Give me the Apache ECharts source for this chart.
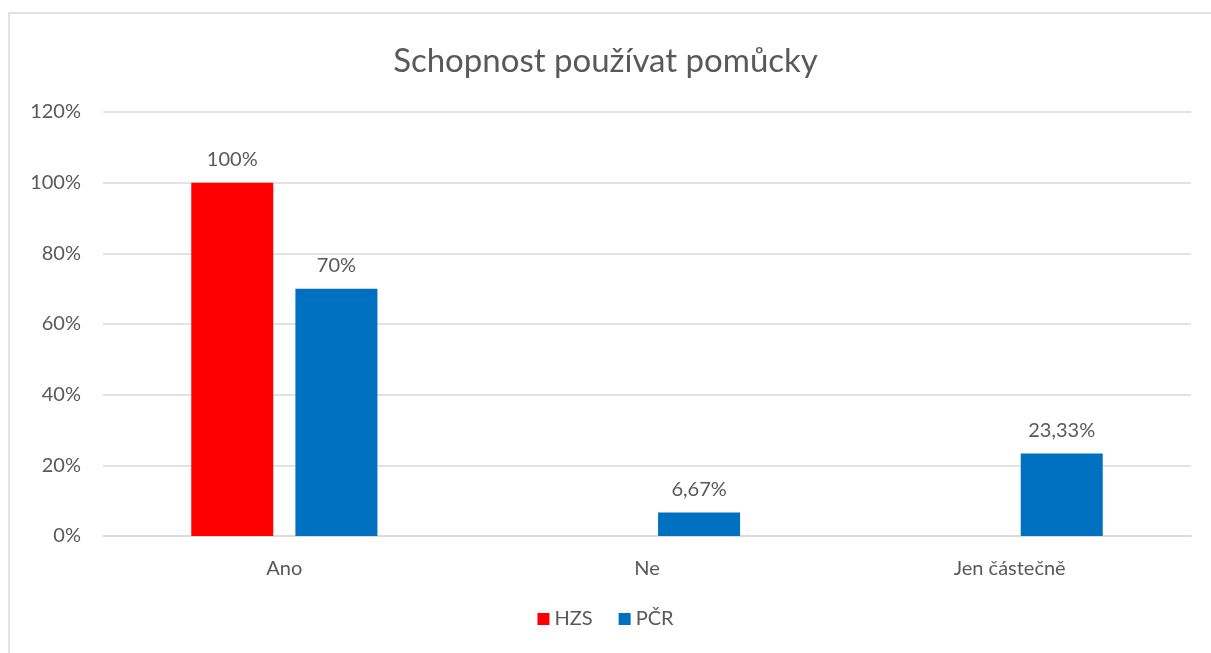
<!DOCTYPE html>
<html>
<head>
<meta charset="utf-8">
<script src="https://cdn.jsdelivr.net/npm/echarts@6/dist/echarts.min.js"></script>
<style>
  html, body { margin: 0; padding: 0; background: #fff; }
  #chart { width: 1211px; height: 653px; }
</style>
</head>
<body>
<div id="chart"></div>
<script>
// data
var categories = ['Ano', 'Ne', 'Jen částečně']
var hzs = [100, null, null]
var pcr = [70, 6.67, 23.33]
var yTicks = [0, 20, 40, 60, 80, 100, 120]

var font = 'Lato, "Open Sans", sans-serif'
var gray = '#595959'

function pct (v) {
  // 6.67 -> "6,67%"
  return String(v).replace('.', ',') + '%'
}

var chart = echarts.init(document.getElementById('chart'))
chart.setOption({
  animation: false,
  textStyle: { fontFamily: font },
  graphic: [{
    type: 'rect',
    shape: { x: 9, y: 13, width: 1210, height: 650 },
    style: { fill: 'none', stroke: '#d9d9d9', lineWidth: 1.5 },
    silent: true
  }],
  title: {
    text: 'Schopnost používat pomůcky',
    left: 'center',
    top: 40,
    textStyle: { fontFamily: font, fontSize: 33, fontWeight: 'normal', color: gray }
  },
  legend: {
    bottom: 19,
    left: 'center',
    itemWidth: 12,
    itemHeight: 12,
    itemGap: 26,
    icon: 'rect',
    textStyle: { fontFamily: font, fontSize: 20, color: gray },
    data: ['HZS', 'PČR']
  },
  grid: { left: 103, right: 20, top: 112, bottom: 117 },
  xAxis: {
    type: 'category',
    data: categories,
    axisLine: { lineStyle: { color: '#d9d9d9', width: 1.5 } },
    axisTick: { show: false },
    axisLabel: { color: gray, fontSize: 20, margin: 23, fontFamily: font }
  },
  yAxis: {
    type: 'value',
    min: yTicks[0],
    max: yTicks[yTicks.length - 1],
    interval: 20,
    axisLine: { show: false },
    axisTick: { show: false },
    axisLabel: { color: gray, fontSize: 20, margin: 22, fontFamily: font, formatter: '{value}%' },
    splitLine: { lineStyle: { color: '#d9d9d9', width: 1.5 } }
  },
  series: [
    {
      name: 'HZS',
      type: 'bar',
      data: hzs,
      barWidth: 82,
      barGap: '27%',
      itemStyle: { color: '#ff0000' },
      label: {
        show: true,
        position: 'top',
        distance: 13,
        color: gray,
        fontSize: 20,
        fontFamily: font,
        formatter: function (p) { return p.value == null ? '' : pct(p.value) }
      }
    },
    {
      name: 'PČR',
      type: 'bar',
      data: pcr,
      barWidth: 82,
      itemStyle: { color: '#0070c0' },
      label: {
        show: true,
        position: 'top',
        distance: 13,
        color: gray,
        fontSize: 20,
        fontFamily: font,
        formatter: function (p) { return pct(p.value) }
      }
    }
  ]
})
</script>
</body>
</html>
